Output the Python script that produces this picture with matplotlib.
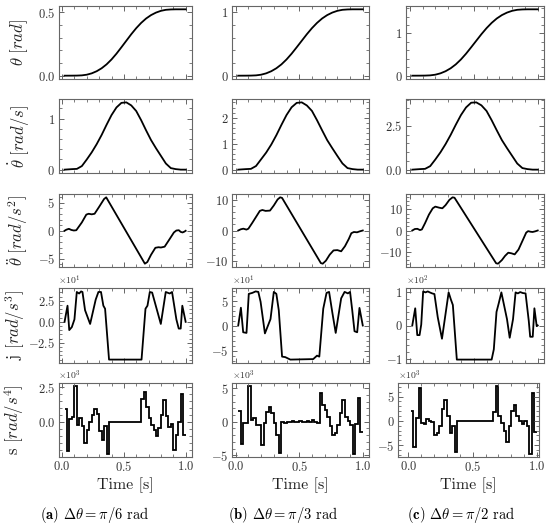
import numpy as np
import matplotlib
matplotlib.use('Agg')
import matplotlib.pyplot as plt
from matplotlib.ticker import AutoMinorLocator

plt.rcParams['font.family'] = ['cmr10', 'DejaVu Serif']
plt.rcParams['mathtext.fontset'] = 'cm'
plt.rcParams['axes.formatter.use_mathtext'] = True

# ---------------- data ----------------
# smooth curves (theta, theta_dot) sampled at these times
T_SMOOTH = [0.02, 0.08, 0.12, 0.16, 0.20, 0.24, 0.28, 0.32, 0.36, 0.40, 0.44, 0.48, 0.52,
            0.56, 0.60, 0.64, 0.68, 0.72, 0.76, 0.80, 0.84, 0.88, 0.92, 0.96, 1.00]

THETA_A = [0, 0.0003, 0.0008, 0.0025, 0.0078, 0.0185, 0.0352, 0.0585, 0.0893, 0.128, 0.1735, 0.224,
           0.2757, 0.3273, 0.3749, 0.4165, 0.4512, 0.478, 0.4978, 0.5117, 0.5197, 0.5226, 0.5236, 0.5236, 0.5236]
THETA_B = [0, 0.0006, 0.0016, 0.005, 0.0156, 0.037, 0.0704, 0.117, 0.1786, 0.256, 0.347, 0.448,
           0.5514, 0.6546, 0.7498, 0.833, 0.9024, 0.956, 0.9956, 1.0234, 1.0394, 1.0452, 1.0472, 1.0472, 1.0472]
THETA_C = [0, 0.0009, 0.0024, 0.0075, 0.0234, 0.0555, 0.1056, 0.1755, 0.2679, 0.384, 0.5205, 0.672,
           0.8271, 0.9819, 1.1247, 1.2495, 1.3536, 1.434, 1.4934, 1.5351, 1.5591, 1.5678, 1.5708, 1.5708, 1.5708]

DTHETA_A = [0, 0.01, 0.015, 0.07, 0.20, 0.34, 0.50, 0.68, 0.88, 1.07, 1.22, 1.31, 1.32,
            1.26, 1.15, 0.97, 0.77, 0.58, 0.42, 0.27, 0.12, 0.03, 0.01, 0, 0]
DTHETA_B = [0, 0.02, 0.03, 0.14, 0.40, 0.66, 0.97, 1.33, 1.73, 2.11, 2.41, 2.58, 2.60,
            2.48, 2.27, 1.91, 1.52, 1.14, 0.83, 0.53, 0.24, 0.06, 0.02, 0, 0]
DTHETA_C = [0, 0.03, 0.045, 0.2, 0.58, 0.99, 1.46, 1.99, 2.57, 3.12, 3.56, 3.83, 3.85,
            3.68, 3.36, 2.83, 2.25, 1.69, 1.23, 0.79, 0.35, 0.09, 0.03, 0, 0]

# acceleration polylines
ACC_A_T = [0.02, 0.035, 0.055, 0.075, 0.095, 0.115, 0.16, 0.196, 0.215, 0.24, 0.263, 0.30, 0.34, 0.357,
           0.67, 0.69, 0.72, 0.755, 0.78, 0.80, 0.83, 0.87, 0.905, 0.925, 0.945, 0.96, 0.975, 0.99, 1.0]
ACC_A_V = [0, 0.2, 0.35, 0.15, 0.05, 0.1, 1.5, 2.9, 3.05, 2.95, 3.05, 4.3, 5.7, 6.0,
           -5.9, -5.6, -4.3, -3.05, -2.95, -3.0, -2.85, -1.5, -0.3, 0.05, 0.1, -0.2, -0.3, -0.15, 0]
ACC_B_T = [0.02, 0.04, 0.06, 0.085, 0.10, 0.13, 0.16, 0.19, 0.21, 0.235, 0.27, 0.30, 0.33, 0.35, 0.365,
           0.67, 0.685, 0.71, 0.74, 0.77, 0.80, 0.83, 0.86, 0.89, 0.91, 0.93, 0.955, 0.975, 1.0]
ACC_B_V = [0, 0.4, 0.6, 0.3, 0.6, 2.5, 4.5, 6.5, 6.8, 6.5, 6.6, 8.3, 10.3, 11.0, 10.8,
           -10.8, -11.0, -10.0, -8.0, -6.6, -6.5, -6.9, -5.2, -2.8, -0.9, -0.5, -0.6, -0.3, 0]
ACC_C_T = [0.02, 0.04, 0.06, 0.08, 0.095, 0.12, 0.15, 0.18, 0.20, 0.23, 0.255, 0.28, 0.31, 0.335, 0.35,
           0.675, 0.69, 0.72, 0.745, 0.77, 0.795, 0.82, 0.85, 0.88, 0.91, 0.925, 0.945, 0.96, 0.98, 1.0]
ACC_C_V = [0, 0.7, 0.8, 0.2, 0.5, 3.5, 7.5, 10.5, 11.3, 10.8, 10.5, 12.0, 14.5, 15.7, 15.5,
           -15.5, -15.7, -14.0, -12.0, -10.5, -10.8, -11.3, -9.0, -5.0, -1.0, -0.3, -0.6, -0.7, -0.4, 0]

# jerk polylines
JERK_A_T = [0.02, 0.044, 0.058, 0.079, 0.10, 0.119, 0.138, 0.154, 0.165, 0.186, 0.227, 0.272, 0.294, 0.315,
            0.334, 0.348, 0.38, 0.643, 0.675, 0.691, 0.71, 0.729, 0.799, 0.839, 0.871, 0.89, 0.925, 0.944,
            0.96, 0.973, 1.0]
JERK_A_V = [0, 19.2, -9.8, -6.2, 2.9, 35.5, 33.7, 36.2, 35.5, 13.8, -2.5, 26.4, 35.5, 35.5,
            19.2, 15.6, -44.9, -44.9, 15.6, 19.2, 35.5, 34.8, -2.5, 35.5, 33.7, 35.5, 2.9, -8.0,
            -8.0, 19.2, 0]
JERK_B_T = [0.02, 0.041, 0.059, 0.085, 0.103, 0.131, 0.157, 0.178, 0.196, 0.23, 0.274, 0.30, 0.32, 0.339,
            0.365, 0.39, 0.43, 0.61, 0.64, 0.658, 0.689, 0.715, 0.735, 0.76, 0.787, 0.83, 0.857, 0.883,
            0.90, 0.917, 0.935, 0.956, 0.974, 1.0]
JERK_B_V = [1, 37, -12.7, -14, 65, 67, 70, 69, 49, -15, 14, 69, 65, 32,
            -62, -63, -68, -67, -60, -62, 35, 67, 69, 28, -14, 56, 69, 66,
            69, 32, -10.6, -12.7, 36.6, 1]
JERK_C_T = [0.02, 0.043, 0.059, 0.077, 0.09, 0.105, 0.123, 0.141, 0.157, 0.175, 0.193, 0.219, 0.252,
            0.278, 0.304, 0.322, 0.337, 0.368, 0.64, 0.657, 0.678, 0.696, 0.716, 0.76, 0.781, 0.807,
            0.827, 0.845, 0.863, 0.884, 0.905, 0.93, 0.941, 0.961, 0.974, 0.992, 1.0]
JERK_C_V = [0, 52, -29, -29, 3, 103, 100, 103, 100, 97, 95, 25, -40,
            30, 100, 78, 62, -103, -103, -72, 41, 68, 100, 19, -37, 19,
            100, 97, 101, 98, 97, 14, -34, -34, 52, -2, 0]

# snap: step values on 0.02 s intervals between t = 0.02 and t = 1.0
SNAP_EDGES = np.linspace(0.02, 1.0, 50)
SNAP_A = [910, -2080, 210, 370, 2550, -210, 260, -300, -1500, -560, 0, 490, 960, 600, -680, -1260, -300, -2270,
          0, 0, 0, 0, 0, 0, 0, 0, 0, 0, 0, 0, 0,
          1660, 2170, 1100, 300, -210, -550, -1030, -440, 500, 1540, 400, -330, -160, -2030, -910, 0, 2000, -910]
SNAP_B = [1600, -3250, -150, -150, 5250, 250, 500, -500, -500, -3500, -200, 1500, 2150, 1250, -200, -2000,
          -4600, 0, -250, -100, 0, 100, 0, 0, 50, 0, 0, 100, 0, 300, 0,
          -250, 4250, 2500, 1750, 750, -600, -2000, -1750, -500, 1250, 3250, 750, 100, -500, -4750, -400, 3500, -1500]
SNAP_C = [2130, -5300, 600, 6750, -350, -700, 350, 0, -200, -2840, -2500, -1000, 2500, 4260, 1000, -2500,
          -1000, -6500, 0, 0, 0, 0, 0, 0, 0, 0, 0, 0, 0, 0, 0,
          0, 1800, 7100, 1000, -350, -2100, -4260, -1000, 2000, 3200, 1000, 0, -700, 0, -1000, -6750, 5700, -2270]

YTICKS = {
    'a': [[0, 0.5], [0, 1], [-5, 0, 5], [-25, 0, 25], [0, 2500]],
    'b': [[0, 1], [0, 1, 2], [-10, 0, 10], [-50, 0, 50], [-5000, 0, 5000]],
    'c': [[0, 1], [0, 2.5], [-10, 0, 10], [-100, 0, 100], [-5000, 0, 5000]],
}
YLABELS = [r'$\theta\ [rad]$', r'$\dot{\theta}\ [rad/s]$', r'$\ddot{\theta}\ [rad/s^2]$',
           r'j $[rad/s^3]$', r's $[rad/s^4]$']
CAPTIONS = {'a': r'$\mathbf{(a)}$ $\Delta\theta = \pi/6$ rad',
            'b': r'$\mathbf{(b)}$ $\Delta\theta = \pi/3$ rad',
            'c': r'$\mathbf{(c)}$ $\Delta\theta = \pi/2$ rad'}

DATA = {
    'a': [(T_SMOOTH, THETA_A), (T_SMOOTH, DTHETA_A), (ACC_A_T, ACC_A_V), (JERK_A_T, JERK_A_V), SNAP_A],
    'b': [(T_SMOOTH, THETA_B), (T_SMOOTH, DTHETA_B), (ACC_B_T, ACC_B_V), (JERK_B_T, JERK_B_V), SNAP_B],
    'c': [(T_SMOOTH, THETA_C), (T_SMOOTH, DTHETA_C), (ACC_C_T, ACC_C_V), (JERK_C_T, JERK_C_V), SNAP_C],
}

# ---------------- layout (pixels) ----------------
W, H = 550, 526
fig = plt.figure(figsize=(W / 100, H / 100), dpi=100)

ROWS = [(6, 79), (99, 173), (194, 267), (288, 363), (383, 457)]
COLS = {'a': [(58.5, 191.7)] * 5,
        'b': [(232, 369)] * 5,
        'c': [(406, 544)] * 4 + [(398, 539)]}
XLIMS = {'a': [(-0.029, 1.049)] * 5,
         'b': [(-0.029, 1.049)] * 5,
         'c': [(-0.029, 1.049)] * 4 + [(-0.08, 1.015)]}
YLABEL_X = [19, 19, 18, 15, 14]

GRAY = '#666666'

for col in ['a', 'b', 'c']:
    for r in range(5):
        x0, x1 = COLS[col][r]
        y0, y1 = ROWS[r]
        ax = fig.add_axes([x0 / W, 1 - y1 / H, (x1 - x0) / W, (y1 - y0) / H])
        d = DATA[col][r]
        if r < 4:
            ax.plot(d[0], d[1], color='black', lw=1.3)
        else:
            ax.stairs(d, SNAP_EDGES, baseline=None, color='black', lw=1.3)
        ax.set_xlim(*XLIMS[col][r])
        ax.set_xticks([0, 0.5, 1.0])
        ax.set_yticks(YTICKS[col][r])
        if r >= 3:
            ax.ticklabel_format(axis='y', style='sci', scilimits=(0, 0), useMathText=True)
        ax.xaxis.set_minor_locator(AutoMinorLocator(5))
        ax.yaxis.set_minor_locator(AutoMinorLocator())
        ax.tick_params(which='both', direction='in', top=True, right=True, color=GRAY)
        ax.tick_params(which='major', length=3.5, width=0.7, labelsize=9,
                       labelcolor='#333333', pad=2.5)
        ax.tick_params(which='minor', length=2, width=0.6)
        if r < 4:
            ax.tick_params(labelbottom=False)
        for s in ax.spines.values():
            s.set_color(GRAY)
            s.set_linewidth(0.8)
        ax.yaxis.get_offset_text().set_fontsize(7)
        ax.yaxis.get_offset_text().set_color('#333333')
        if col == 'a':
            fig.text(YLABEL_X[r] / W, 1 - (y0 + y1) / 2 / H, YLABELS[r], rotation=90,
                     ha='center', va='center', fontsize=12, color='#222222')
        if r == 4:
            fig.text((x0 + x1) / 2 / W, 1 - 485 / H, 'Time [s]', ha='center', va='center',
                     fontsize=11.5, color='#222222')

CAP_X = {'a': 95, 'b': 283, 'c': 461}
for col in ['a', 'b', 'c']:
    fig.text(CAP_X[col] / W, 1 - 515 / H, CAPTIONS[col], ha='center', va='center',
             fontsize=10.5, color='black')

fig.savefig('out.png', dpi=100)
